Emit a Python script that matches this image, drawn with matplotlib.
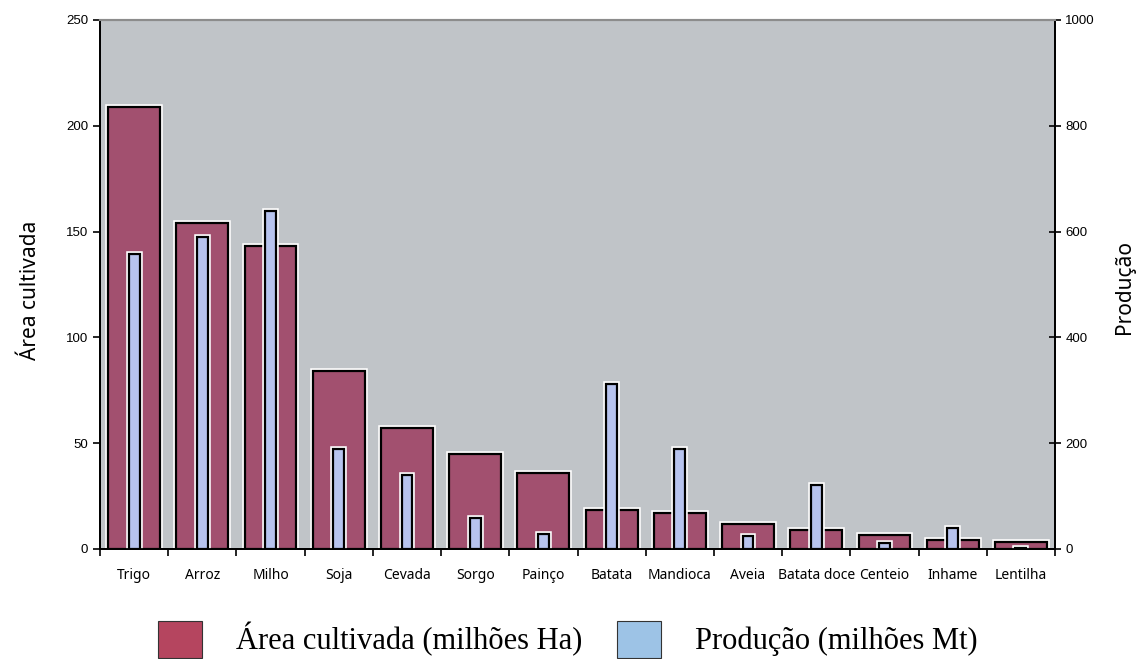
import matplotlib
matplotlib.use('Agg')
import matplotlib.pyplot as plt
import matplotlib.patheffects as pe
from matplotlib.patches import Patch
import numpy as np

# crops, area (millions ha) and production (millions t)
culturas = ['Trigo', 'Arroz', 'Milho', 'Soja', 'Cevada', 'Sorgo', 'Painço', 'Batata',
            'Mandioca', 'Aveia', 'Batata doce', 'Centeio', 'Inhame', 'Lentilha']
area = [209, 154, 143, 84, 57, 45, 36, 18.5, 17, 12, 9, 6.5, 4.3, 3.3]
producao = [558, 590, 639, 189, 140, 59, 28, 312, 189, 25, 121, 11, 40, 2]

area_ticks = [0, 50, 100, 150, 200, 250]
prod_ticks = [0, 200, 400, 600, 800, 1000]

cor_area = '#a2506f'
cor_prod = '#b7c3ee'
fundo = '#c0c4c8'

fig = plt.figure(figsize=(11.42, 6.59), dpi=100)
ax = fig.add_axes([0.0876, 0.167, 0.8362, 0.8027])
ax2 = ax.twinx()
ax2.patch.set_visible(False)
ax.set_facecolor(fundo)

x = np.arange(len(culturas))
halo = [pe.Stroke(linewidth=4, foreground='white'), pe.Normal()]

b1 = ax.bar(x, area, width=0.76, color=cor_area, edgecolor='black', linewidth=1.6)
for b in b1:
    b.set_path_effects(halo)
b2 = ax2.bar(x, producao, width=0.16, color=cor_prod, edgecolor='black', linewidth=1.6)
for b in b2:
    b.set_path_effects(halo)

ax.set_xlim(-0.5, len(culturas) - 0.5)
ax.set_ylim(0, 250)
ax2.set_ylim(0, 1000)
ax.set_yticks(area_ticks)
ax2.set_yticks(prod_ticks)

# labels at centres, tick marks at the boundaries
ax.set_xticks(x)
ax.set_xticklabels(culturas, fontsize=10, family='Noto Sans')
ax.set_xticks(np.arange(len(culturas) + 1) - 0.5, minor=True)
ax.tick_params(axis='x', which='major', length=0, pad=14)
ax.tick_params(axis='x', which='minor', length=5, width=1.2, direction='out')
ax.tick_params(axis='y', length=5, width=1.2, direction='out', labelsize=9.5)
ax2.tick_params(axis='y', length=8, width=1.2, direction='inout', labelsize=9.5)
for lab in ax.get_yticklabels() + ax2.get_yticklabels():
    lab.set_family('Liberation Sans')

for a in (ax, ax2):
    a.spines['top'].set_color('#8c8c8c')
    a.spines['top'].set_linewidth(1.5)
    a.spines['left'].set_linewidth(1.3)
    a.spines['right'].set_linewidth(1.3)
    a.spines['bottom'].set_linewidth(1.3)

fig.text(0.027, 0.56, 'Área cultivada', rotation=90, ha='center', va='center',
         fontsize=15, family='Noto Sans')
fig.text(0.985, 0.565, 'Produção', rotation=90, ha='center', va='center',
         fontsize=15, family='Noto Sans')

handles = [Patch(facecolor='#b5455f', edgecolor='#333333', linewidth=0.8),
           Patch(facecolor='#9dc3e6', edgecolor='#333333', linewidth=0.8)]
fig.legend(handles, ['Área cultivada (milhões Ha)', 'Produção (milhões Mt)'],
           loc='center', bbox_to_anchor=(0.497, 0.03), ncol=2, frameon=False,
           prop={'family': 'Liberation Serif', 'size': 22},
           handlelength=1.45, handleheight=1.5, handletextpad=1.1, columnspacing=1.15)

fig.savefig('out.png', dpi=100)
